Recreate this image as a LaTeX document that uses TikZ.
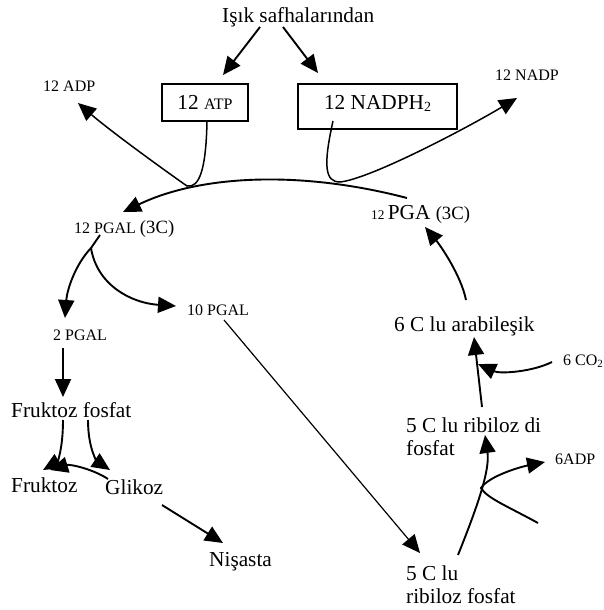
\documentclass[tikz,border=0pt]{standalone}
\usepackage{fontspec}
\setmainfont{Liberation Serif}
\usetikzlibrary{arrows.meta,calc}
% text sizes used in the scheme
\newcommand\bigsz{\fontsize{21.3}{23}\selectfont}
\newcommand\smsz{\fontsize{16}{18}\selectfont}
\newcommand\tnsz{\fontsize{13.3}{15}\selectfont}
\newcommand\mdsz{\fontsize{18.7}{21}\selectfont}
\tikzset{
  txt/.style={inner sep=0pt, anchor=base west, font=\bigsz},
  smalltxt/.style={txt, font=\smsz},
  boxnode/.style={draw, line width=1.7pt, inner sep=0pt, font=\bigsz, text depth=0pt},
  arr/.style={line width=1.9pt, -{Triangle[length=18pt,width=16pt]}},
}
\begin{document}
\begin{tikzpicture}[x=1pt,y=-1pt]
\useasboundingbox (0,0) rectangle (603,610);

% labels and boxes
\node[txt] (title) at (222,23) {Işık safhalarından};
\node[boxnode, minimum width=86, minimum height=37, text height=13pt] (atp) at (205,102.5) {12 {\smsz ATP}};
\node[boxnode, minimum width=159, minimum height=45, text height=5pt] (nadph) at (377.5,106.5) {12 NADPH\raisebox{-0.3ex}{\fontsize{14}{14}\selectfont 2}};
\node[smalltxt] (adp) at (43,92) {12 ADP};
\node[smalltxt] (nadp) at (495,80) {12 NADP};
\node[smalltxt] (pgal) at (74,233) {12 PGAL {\mdsz (3C)}};
\node[smalltxt] (pgaltwo) at (53,340) {2 PGAL};
\node[smalltxt] (pgalten) at (187,315) {10 PGAL};
\node[txt] (ffosfat) at (11,417) {Fruktoz fosfat};
\node[txt] (fruktoz) at (11,492) {Fruktoz};
\node[txt] (glikoz) at (105,494) {Glikoz};
\node[txt] (nisasta) at (209,566) {Nişasta};
\node[txt] (pga) at (371,219) {{\tnsz 12 }PGA {\mdsz (3C)}};
\node[txt] (arabilesik) at (394,331) {6 C lu arabileşik};
\node[smalltxt] (co2) at (563,365) {6 CO\raisebox{-0.35ex}{\fontsize{11}{11}\selectfont 2}};
\node[txt] (rdp) at (406,432) {\begin{tabular}[t]{@{}l@{}}5 C lu ribiloz di\\fosfat\end{tabular}};
\node[txt] (rfos) at (406,580) {\begin{tabular}[t]{@{}l@{}}5 C lu\\ribiloz fosfat\end{tabular}};
\node[smalltxt] (adpsix) at (555,464) {6ADP};

% turning and branching points
\coordinate (atpturn) at (187,186);
\coordinate (nadphturn) at (340,182);
\coordinate (split) at (91,248);
\coordinate (cusp) at (481,488);
\coordinate (atpin) at (538,523);

% light reaction products
\draw[arr] ($(title.base west)+(38,4)$) -- ($(atp.center)+(18,-27.5)$);
\draw[arr] ($(title.base west)+(61,4)$) -- ($(nadph.center)+(-59.5,-33.5)$);
\draw[arr, line width=1.5pt] ($(atp.center)+(2,18.5)$) .. controls +(-1,50) and +(12,2) .. (atpturn)
  .. controls +(-30,-21) and +(30,26) .. ($(adp.base west)+(35,11)$);
\draw[arr, line width=1.5pt] ($(nadph.center)+(-44.5,14.5)$) .. controls +(-10,45) and +(-15,0) .. (nadphturn)
  .. controls +(30,-3) and +(-50,30) .. ($(nadp.base west)+(22,18)$);

% PGA reduced to PGAL
\draw[arr] ($(pga.base west)+(36,-21)$) .. controls +(-107,-28) and +(77,-37) .. ($(pgal.base west)+(49,-21)$);
\draw[arr] ($(pgal.base west)+(26,2)$) -- (split) .. controls +(-16,17) and +(2,-28) .. ($(pgaltwo.base west)+(12,-22)$);
\draw[arr] (split) .. controls +(6,37) and +(-45,-3) .. ($(pgalten.base west)+(-11,-9)$);

% sugar branch
\draw[arr] ($(pgaltwo.base west)+(10,8)$) -- ($(ffosfat.base west)+(52,-20)$);
\draw[arr] ($(ffosfat.base west)+(52,3)$) .. controls +(0,30) and +(14,-8) .. ($(fruktoz.base west)+(32,-22)$);
\draw[arr] ($(ffosfat.base west)+(77,3)$) .. controls +(0,30) and +(-12,-8) .. ($(glikoz.base west)+(5,-24)$);
\draw[arr] ($(glikoz.base west)+(3,-15)$) .. controls +(-15,-10) and +(20,-6) .. ($(fruktoz.base west)+(39,-22)$);
\draw[arr] ($(glikoz.base west)+(57,11)$) -- ($(nisasta.base west)+(14,-23)$);

% regeneration of ribulose
\draw[arr, line width=1.2pt] ($(pgalten.base west)+(37,5)$) -- ($(rfos.base west)+(14,-27)$);
\draw[arr] ($(rfos.base west)+(52,-25)$) .. controls +(20,-50) and +(5,35) .. ($(rdp.base west)+(79,3)$);
\draw[arr] (atpin) .. controls +(-33,-18) and +(6,10) .. (cusp)
  .. controls +(8,-12) and +(-25,5) .. ($(adpsix.base west)+(-10,-2)$);

% carbon fixation
\draw[arr] ($(rdp.base west)+(76,-25)$) -- ($(arabilesik.base west)+(80,6)$);
\draw[arr] ($(co2.base west)+(-11,-3)$) .. controls +(-20,10) and +(22,10) .. ($(arabilesik.base west)+(84,33)$);
\draw[arr] ($(arabilesik.base west)+(72,-31)$) .. controls +(-5,-25) and +(15,18) .. ($(pga.base west)+(54,8)$);
\end{tikzpicture}
\end{document}
